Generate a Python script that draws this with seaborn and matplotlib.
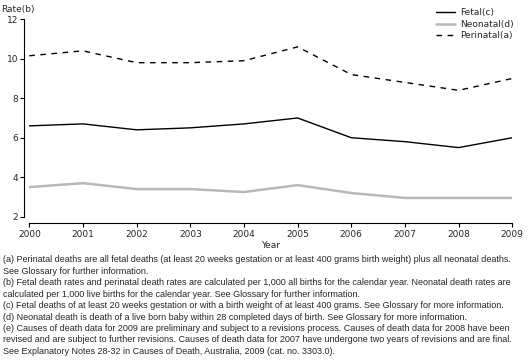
import pandas as pd
import matplotlib
matplotlib.use("Agg")
import matplotlib.pyplot as plt
import seaborn as sns

# ---- data ----
anos = [2000, 2001, 2002, 2003, 2004, 2005, 2006, 2007, 2008, 2009]
fetal = [6.6, 6.7, 6.4, 6.5, 6.7, 7.0, 6.0, 5.8, 5.5, 6.0]
neonatal = [3.5, 3.7, 3.4, 3.4, 3.25, 3.6, 3.2, 2.95, 2.95, 2.95]
perinatal = [10.15, 10.4, 9.8, 9.8, 9.9, 10.6, 9.2, 8.8, 8.4, 9.0]
series = ["Fetal(c)", "Neonatal(d)", "Perinatal(a)"]
y_ticks = [2, 4, 6, 8, 10, 12]

notas = [
    "(a) Perinatal deaths are all fetal deaths (at least 20 weeks gestation or at least 400 grams birth weight) plus all neonatal deaths.",
    "See Glossary for further information.",
    "(b) Fetal death rates and perinatal death rates are calculated per 1,000 all births for the calendar year. Neonatal death rates are",
    "calculated per 1,000 live births for the calendar year. See Glossary for further information.",
    "(c) Fetal deaths of at least 20 weeks gestation or with a birth weight of at least 400 grams. See Glossary for more information.",
    "(d) Neonatal death is death of a live born baby within 28 completed days of birth. See Glossary for more information.",
    "(e) Causes of death data for 2009 are preliminary and subject to a revisions process. Causes of death data for 2008 have been",
    "revised and are subject to further revisions. Causes of death data for 2007 have undergone two years of revisions and are final.",
    "See Explanatory Notes 28-32 in Causes of Death, Australia, 2009 (cat. no. 3303.0).",
]

df = pd.DataFrame({"Year": anos * 3,
                   "Rate": fetal + neonatal + perinatal,
                   "Serie": [s for s in series for _ in anos]})

sns.set_theme(style="white")
plt.rcParams["font.family"] = ["DejaVu Sans"]

fig = plt.figure(figsize=(5.29, 3.63), dpi=100)
ax = fig.add_axes([0.0554, 0.403, 0.913, 0.544])

cores = {"Fetal(c)": "black", "Neonatal(d)": "#b8b8b8", "Perinatal(a)": "black"}
larguras = {"Fetal(c)": 1.0, "Neonatal(d)": 1.8, "Perinatal(a)": 1.0}
tracos = {"Fetal(c)": "-", "Neonatal(d)": "-", "Perinatal(a)": (0, (4, 4))}
for s in series:
    sns.lineplot(data=df[df["Serie"] == s], x="Year", y="Rate", ax=ax,
                 color=cores[s], linewidth=larguras[s], linestyle=tracos[s], label=s)

ax.set_xlim(2000, 2009)
ax.set_ylim(2, 12)
ax.set_xticks(anos)
ax.set_yticks(y_ticks)
ax.tick_params(axis="both", labelsize=6.5, length=3, width=0.8, color="black",
               pad=1.5, direction="out", bottom=True, left=True)
for sp in ["top", "right"]:
    ax.spines[sp].set_visible(False)
ax.spines["left"].set_position(("outward", 3.6))
ax.spines["bottom"].set_position(("outward", 4.8))
for sp in ["left", "bottom"]:
    ax.spines[sp].set_color("black")
    ax.spines[sp].set_linewidth(0.8)
ax.set_xlabel("Year", fontsize=6.5, labelpad=2)
ax.set_ylabel("")
fig.text(0.002, 0.985, "Rate(b)", fontsize=6.5, ha="left", va="top")

leg = ax.legend(loc="upper right", bbox_to_anchor=(1.01, 1.075), frameon=False,
                fontsize=6.5, handlelength=2.2, handletextpad=0.5,
                labelspacing=0.3, borderaxespad=0)

y0 = 363 - 260
for i, linha in enumerate(notas):
    fig.text(3 / 529, (y0 - i * 11.4) / 363, linha, fontsize=6.5,
             family=["Liberation Sans"], ha="left", va="center")

plt.savefig("out.png", dpi=100)
